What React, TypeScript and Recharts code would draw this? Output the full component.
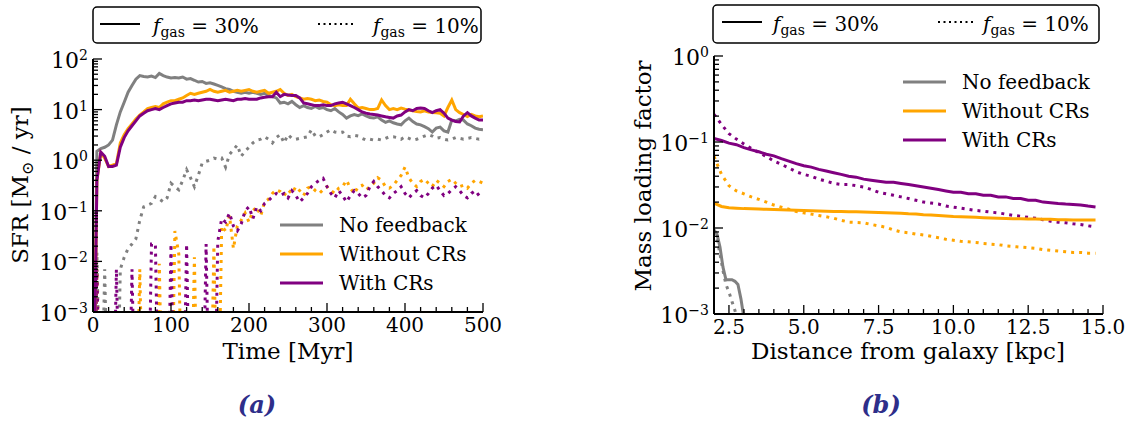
import React from 'react';
import { LineChart, Line, XAxis, YAxis } from 'recharts';

const FONT = "'DejaVu Serif', serif";
const GRAY = '#808080';
const ORANGE = '#FFA500';
const PURPLE = '#800080';
const Z = 1e-6; // zero star formation (below plot floor)

// ---------- Panel (a): SFR vs time ----------
const time = [0,5,10,15,20,25,30,35,40,45,50,55,60,65,70,75,80,85,90,95,100,105,110,115,120,125,130,135,140,145,150,155,160,165,170,175,180,185,190,195,200,205,210,215,220,225,230,235,240,245,250,255,260,265,270,275,280,285,290,295,300,305,310,315,320,325,330,335,340,345,350,355,360,365,370,375,380,385,390,395,400,405,410,415,420,425,430,435,440,445,450,455,460,465,470,475,480,485,490,495,500];

const sfrNoFeedback30 = [Z,1.5,1.7,1.8,2.0,2.5,5,9,14,22,30,40,47,45,44,46,43,52,47,44,42,43,42,44,40,41,38,35,36,33,34,32,30,28,26,25,23,22,21,22,21,22,21,20,21,19,18,17,13.5,14,13,14.5,12.5,11,12,11,10.5,11.5,10.5,11,10,9.5,10.5,9,8,6.8,7.5,8,7.6,8.2,7.5,7,6.8,7.2,6.2,5.6,6,5.5,5.2,5,6,6.8,5.8,5.2,5,4.6,4.2,3.6,4.3,4.5,3.8,3.6,6.2,6,6.4,6.2,5.2,4.8,4.3,4.1,4];
const sfrWithoutCRs30 = [Z,0.4,1.4,1.1,0.75,0.8,0.85,2.2,3.2,4.2,5.2,6.5,7.8,9,10.5,11,11.5,11,13,14,15,15,16,17,19,21,20,21,22,23,25,23,22,23,24,22,23,24,23,24,25,23,22,23,24,21,22,23,25,21,19,20,18,17,16,16.5,16,15,15.5,14.5,14,12.5,12,12.5,12,12,16,13,10.7,11,10.5,10,10,10.5,15.5,12,10,10.5,10,10.7,10.2,9.8,9.5,9.2,9,9.5,9,8.8,8.7,8.5,7.5,11,15.5,10,8.7,8,7.3,8,7.5,7.2,7.5];
const sfrWithCRs30 = [Z,0.4,1.45,1.2,0.75,0.75,0.8,1.8,2.8,3.8,4.8,6,7.5,8.5,9.5,10,10.5,10,11,12,13,13.5,14,14,15,15,15.5,15,15.5,16,16,15.5,15,15.5,16,15.5,15,16,16,16.5,16,16,16,17,17.5,18,18,22,18,20,19.5,19,19,17,13.5,13,12.5,12,12,12.5,12,12,13,13.5,14,13,12,11,10,9,8.5,8.2,8,7.8,7.5,7.2,7,6.8,7.5,7.8,9,10,9.5,10.5,10.7,10.5,9.5,8.7,9.5,10,8.5,6.8,6.2,5.8,5.7,7.5,8.7,7.5,6.8,6.2,6.2];
const sfrNoFeedback10 = [Z,0.015,Z,0.007,Z,Z,Z,0.007,0.012,0.018,0.022,0.028,0.065,0.12,0.13,0.14,0.19,0.17,0.15,0.18,0.35,0.3,0.26,0.4,0.65,0.45,0.3,0.5,0.88,0.95,1.0,1.1,1.05,1.1,0.73,1.3,1.6,2.0,1.2,1.5,1.8,2.2,2.5,2.6,2.9,2.6,2.2,2.8,3.2,2.2,3.2,2.7,2.6,2.7,2.8,2.9,4.0,3.0,2.9,3.2,3.6,4.0,3.6,3.5,3.6,3.0,2.9,3.1,3.0,2.7,2.5,2.6,2.5,2.6,2.5,2.7,2.9,2.9,2.8,2.6,2.9,2.7,2.5,2.6,2.8,3.0,3.2,3.0,2.7,2.8,2.6,2.5,2.6,2.8,2.7,2.6,2.7,2.8,2.7,2.6,2.7];
const sfrWithoutCRs10 = [Z,0.007,Z,Z,Z,Z,Z,Z,Z,Z,Z,Z,0.007,Z,Z,Z,Z,0.009,Z,Z,Z,0.04,0.014,Z,Z,Z,0.012,Z,Z,Z,Z,0.02,Z,0.05,0.04,0.08,0.018,0.05,0.065,0.09,0.06,0.1,0.12,0.08,0.15,0.17,0.22,0.26,0.24,0.2,0.26,0.22,0.3,0.25,0.2,0.28,0.3,0.25,0.22,0.26,0.3,0.25,0.22,0.28,0.3,0.4,0.28,0.22,0.3,0.32,0.26,0.3,0.35,0.45,0.4,0.3,0.28,0.32,0.4,0.5,0.73,0.45,0.35,0.3,0.38,0.42,0.35,0.3,0.4,0.35,0.3,0.38,0.42,0.35,0.3,0.32,0.28,0.35,0.4,0.38,0.35];
const sfrWithCRs10 = [Z,0.007,Z,Z,Z,Z,0.007,Z,Z,Z,0.007,Z,Z,Z,Z,0.022,0.022,Z,Z,Z,0.022,Z,Z,Z,0.022,Z,Z,Z,Z,0.022,Z,Z,0.025,0.07,0.06,0.09,0.05,0.04,0.055,0.1,0.12,0.07,0.12,0.1,0.14,0.16,0.19,0.22,0.2,0.22,0.18,0.25,0.2,0.15,0.18,0.22,0.3,0.35,0.4,0.44,0.3,0.22,0.18,0.25,0.2,0.15,0.2,0.25,0.22,0.18,0.2,0.3,0.38,0.3,0.25,0.2,0.18,0.22,0.25,0.3,0.22,0.18,0.22,0.25,0.2,0.18,0.22,0.28,0.32,0.25,0.2,0.22,0.26,0.3,0.25,0.2,0.18,0.22,0.25,0.2,0.2];

const timeTicks = [0,20,40,60,80,100,120,140,160,180,200,220,240,260,280,300,320,340,360,380,400,420,440,460,480,500];
const sfrTicks = [0.001,0.002,0.003,0.004,0.005,0.006,0.007,0.008,0.009,0.01,0.02,0.03,0.04,0.05,0.06,0.07,0.08,0.09,0.1,0.2,0.3,0.4,0.5,0.6,0.7,0.8,0.9,1,2,3,4,5,6,7,8,9,10,20,30,40,50,60,70,80,90,100];

// ---------- Panel (b): mass loading vs distance ----------
const distance = [2,2.25,2.5,2.75,3,3.25,3.5,3.75,4,4.25,4.5,4.75,5,5.25,5.5,5.75,6,6.25,6.5,6.75,7,7.25,7.5,7.75,8,8.25,8.5,8.75,9,9.25,9.5,9.75,10,10.25,10.5,10.75,11,11.25,11.5,11.75,12,12.25,12.5,12.75,13,13.25,13.5,13.75,14,14.25,14.5,14.75];
const mlWithoutCRs30 = [0.0195,0.0178,0.0172,0.017,0.0168,0.0167,0.0166,0.0165,0.0164,0.0163,0.0162,0.0161,0.016,0.0159,0.0158,0.0157,0.0156,0.0156,0.0155,0.0154,0.0153,0.0152,0.0151,0.015,0.0149,0.0148,0.0146,0.0145,0.0143,0.0142,0.014,0.0138,0.0136,0.0135,0.0134,0.0133,0.0132,0.0131,0.013,0.0129,0.0128,0.0128,0.0127,0.0127,0.0126,0.0126,0.0125,0.0125,0.0124,0.0124,0.0124,0.0124];
const mlWithCRs30 = [0.11,0.104,0.097,0.093,0.086,0.081,0.077,0.072,0.069,0.064,0.06,0.056,0.053,0.051,0.048,0.046,0.044,0.042,0.04,0.039,0.037,0.036,0.035,0.034,0.034,0.033,0.032,0.031,0.03,0.029,0.028,0.027,0.026,0.026,0.025,0.025,0.024,0.024,0.023,0.023,0.022,0.022,0.021,0.021,0.02,0.0197,0.0193,0.019,0.0188,0.0185,0.018,0.0176];
const mlWithoutCRs10 = [0.068,0.042,0.031,0.027,0.025,0.023,0.0215,0.02,0.0185,0.0175,0.0165,0.0155,0.015,0.0145,0.014,0.0135,0.013,0.0123,0.0117,0.0116,0.0115,0.011,0.0106,0.0102,0.0095,0.009,0.0088,0.0085,0.0083,0.008,0.0077,0.0074,0.0072,0.007,0.0069,0.0068,0.0066,0.0065,0.0064,0.0062,0.0061,0.006,0.0059,0.0058,0.0056,0.0055,0.0054,0.0053,0.0052,0.0052,0.0051,0.0051];
const mlWithCRs10 = [0.21,0.16,0.125,0.108,0.095,0.084,0.075,0.068,0.06,0.055,0.05,0.045,0.042,0.04,0.037,0.035,0.033,0.032,0.032,0.031,0.03,0.028,0.026,0.025,0.024,0.023,0.022,0.021,0.02,0.0195,0.019,0.018,0.0175,0.017,0.0165,0.016,0.0157,0.0153,0.015,0.0145,0.014,0.0137,0.0133,0.013,0.0125,0.012,0.0117,0.0115,0.0112,0.011,0.0106,0.0103];
const distanceNoFb30 = [2,2.1,2.2,2.3,2.4,2.5,2.6,2.7,2.8,2.9,3,3.1];
const mlNoFeedback30 = [0.0095,0.0085,0.006,0.0035,0.0025,0.0025,0.0025,0.0024,0.0022,0.0015,0.0009,0.0004];
const distanceNoFb10 = [2,2.1,2.2,2.3,2.4,2.5,2.6,2.7,2.8,2.9];
const mlNoFeedback10 = [0.009,0.0075,0.005,0.0032,0.0022,0.0018,0.0014,0.0011,0.0008,0.0005];

const distTicks = [2.5,3,3.5,4,4.5,5,5.5,6,6.5,7,7.5,8,8.5,9,9.5,10,10.5,11,11.5,12,12.5,13,13.5,14,14.5,15];
const mlTicks = [0.001,0.002,0.003,0.004,0.005,0.006,0.007,0.008,0.009,0.01,0.02,0.03,0.04,0.05,0.06,0.07,0.08,0.09,0.1,0.2,0.3,0.4,0.5,0.6,0.7,0.8,0.9,1];

const legendLabels = ['No feedback', 'Without CRs', 'With CRs'];
const legendColors = [GRAY, ORANGE, PURPLE];
const gasLabels = ['30%', '10%'];
const captions = ['(a)', '(b)'];

// ---------- helpers ----------
const isDecade = (v: number) => Math.abs(Math.log10(v) - Math.round(Math.log10(v))) < 1e-6;
const expStr = (v: number) => {
  const e = Math.round(Math.log10(v));
  return e < 0 ? '\u2212' + -e : String(e);
};

type Side = 'bottom' | 'top' | 'left' | 'right';
const makeTick = (side: Side, isMajor: (v: number) => boolean, label?: (v: number) => string) => (props: any) => {
  const { x, y, payload } = props;
  const v = payload.value;
  const major = isMajor(v);
  const len = major ? 9 : 5;
  let x2 = x, y2 = y;
  if (side === 'bottom') y2 = y - len;
  else if (side === 'top') y2 = y + len;
  else if (side === 'left') x2 = x + len;
  else x2 = x - len;
  return (
    <g>
      <line x1={x} y1={y} x2={x2} y2={y2} stroke="#000" strokeWidth={1.3} />
      {major && side === 'bottom' && label && (
        <text x={x} y={y + 20} textAnchor="middle" fontSize={20} fontFamily={FONT} fill="#000">{label(v)}</text>
      )}
      {major && side === 'left' && (
        <text x={x - 5} y={y + 9} textAnchor="end" fontSize={22} fontFamily={FONT} fill="#000">
          <tspan>10</tspan>
          <tspan dy={-8} fontSize={14}>{expStr(v)}</tspan>
        </text>
      )}
    </g>
  );
};

const axisLine = { stroke: '#000', strokeWidth: 2 };
const solid = { strokeWidth: 3, dot: false, activeDot: false, isAnimationActive: false, type: 'linear' as const };
const dotted = { ...solid, strokeDasharray: '3 5' };

const sfrData = time.map((t, i) => ({
  t,
  nf30: sfrNoFeedback30[i], wo30: sfrWithoutCRs30[i], w30: sfrWithCRs30[i],
  nf10: sfrNoFeedback10[i], wo10: sfrWithoutCRs10[i], w10: sfrWithCRs10[i],
}));
const mlData = distance.map((d, i) => ({
  d, wo30: mlWithoutCRs30[i], w30: mlWithCRs30[i], wo10: mlWithoutCRs10[i], w10: mlWithCRs10[i],
}));
const nf30Data = distanceNoFb30.map((d, i) => ({ d, nf30: mlNoFeedback30[i] }));
const nf10Data = distanceNoFb10.map((d, i) => ({ d, nf10: mlNoFeedback10[i] }));

const TopLegend = ({ x, y, w, h, lx, tx, dlx, dtx }: any) => (
  <g fontFamily={FONT}>
    <rect x={x} y={y} width={w} height={h} rx={4} fill="#fff" stroke="#000" strokeWidth={1.5} />
    <line x1={lx} x2={lx + 40} y1={y + 17} y2={y + 17} stroke="#000" strokeWidth={2} />
    <text x={tx} y={y + 26} fontSize={20} fill="#000">
      <tspan fontStyle="italic">f</tspan>
      <tspan fontSize={14} dy={4}>gas</tspan>
      <tspan dy={-4}>{' = ' + gasLabels[0]}</tspan>
    </text>
    <line x1={dlx} x2={dlx + 36} y1={y + 17} y2={y + 17} stroke="#000" strokeWidth={2} strokeDasharray="2 3.5" />
    <text x={dtx} y={y + 26} fontSize={20} fill="#000">
      <tspan fontStyle="italic">f</tspan>
      <tspan fontSize={14} dy={4}>gas</tspan>
      <tspan dy={-4}>{' = ' + gasLabels[1]}</tspan>
    </text>
  </g>
);

const InnerLegend = ({ x, y, gap }: any) => (
  <g fontFamily={FONT}>
    {legendLabels.map((lab, i) => (
      <g key={lab}>
        <line x1={x} x2={x + 43} y1={y + i * gap} y2={y + i * gap} stroke={legendColors[i]} strokeWidth={3} />
        <text x={x + 59} y={y + i * gap + 7} fontSize={20} fill="#000">{lab}</text>
      </g>
    ))}
  </g>
);

export default function App() {
  return (
    <div style={{ position: 'absolute', left: 0, top: 0, width: 1134, height: 421, background: '#fff' }}>
      <div style={{ position: 'absolute', left: 0, top: 0 }}>
        <LineChart width={530} height={421} data={sfrData} margin={{ top: 59, right: 47, bottom: 79, left: 13 }}>
          <XAxis xAxisId="b" dataKey="t" type="number" domain={[0, 500]} ticks={timeTicks} interval={0}
            allowDataOverflow height={30} tickSize={0} tickMargin={0} axisLine={axisLine}
            tick={makeTick('bottom', (v) => v % 100 === 0, (v) => String(v))} />
          <XAxis xAxisId="t" orientation="top" dataKey="t" type="number" domain={[0, 500]} ticks={timeTicks} interval={0}
            allowDataOverflow height={0} tickSize={0} tickMargin={0} axisLine={axisLine}
            tick={makeTick('top', (v) => v % 100 === 0)} />
          <YAxis yAxisId="l" type="number" scale="log" domain={[0.001, 100]} ticks={sfrTicks} interval={0}
            allowDataOverflow width={80} tickSize={0} tickMargin={0} axisLine={axisLine}
            tick={makeTick('left', isDecade)} />
          <YAxis yAxisId="r" orientation="right" type="number" scale="log" domain={[0.001, 100]} ticks={sfrTicks} interval={0}
            allowDataOverflow width={0} tickSize={0} tickMargin={0} axisLine={axisLine}
            tick={makeTick('right', isDecade)} />
          <Line xAxisId="b" yAxisId="l" dataKey="nf10" stroke={GRAY} {...dotted} />
          <Line xAxisId="b" yAxisId="l" dataKey="wo10" stroke={ORANGE} {...dotted} />
          <Line xAxisId="b" yAxisId="l" dataKey="w10" stroke={PURPLE} {...dotted} />
          <Line xAxisId="b" yAxisId="l" dataKey="nf30" stroke={GRAY} {...solid} />
          <Line xAxisId="b" yAxisId="l" dataKey="wo30" stroke={ORANGE} {...solid} />
          <Line xAxisId="b" yAxisId="l" dataKey="w30" stroke={PURPLE} {...solid} />
        </LineChart>
      </div>
      <div style={{ position: 'absolute', left: 600, top: 0 }}>
        <LineChart width={534} height={421} data={mlData} margin={{ top: 56, right: 31, bottom: 77, left: 34 }}>
          <XAxis xAxisId="b" dataKey="d" type="number" domain={[2, 15]} ticks={distTicks} interval={0}
            allowDataOverflow height={30} tickSize={0} tickMargin={0} axisLine={axisLine}
            tick={makeTick('bottom', (v) => Math.abs(v / 2.5 - Math.round(v / 2.5)) < 1e-6, (v) => v.toFixed(1))} />
          <XAxis xAxisId="t" orientation="top" dataKey="d" type="number" domain={[2, 15]} ticks={distTicks} interval={0}
            allowDataOverflow height={0} tickSize={0} tickMargin={0} axisLine={axisLine}
            tick={makeTick('top', (v) => Math.abs(v / 2.5 - Math.round(v / 2.5)) < 1e-6)} />
          <YAxis yAxisId="l" type="number" scale="log" domain={[0.001, 1]} ticks={mlTicks} interval={0}
            allowDataOverflow width={80} tickSize={0} tickMargin={0} axisLine={axisLine}
            tick={makeTick('left', isDecade)} />
          <YAxis yAxisId="r" orientation="right" type="number" scale="log" domain={[0.001, 1]} ticks={mlTicks} interval={0}
            allowDataOverflow width={0} tickSize={0} tickMargin={0} axisLine={axisLine}
            tick={makeTick('right', isDecade)} />
          <Line xAxisId="b" yAxisId="l" data={nf10Data} dataKey="nf10" stroke={GRAY} {...dotted} />
          <Line xAxisId="b" yAxisId="l" dataKey="wo10" stroke={ORANGE} {...dotted} />
          <Line xAxisId="b" yAxisId="l" dataKey="w10" stroke={PURPLE} {...dotted} />
          <Line xAxisId="b" yAxisId="l" data={nf30Data} dataKey="nf30" stroke={GRAY} {...solid} />
          <Line xAxisId="b" yAxisId="l" dataKey="wo30" stroke={ORANGE} {...solid} />
          <Line xAxisId="b" yAxisId="l" dataKey="w30" stroke={PURPLE} {...solid} />
        </LineChart>
      </div>
      <svg width={1134} height={421} style={{ position: 'absolute', left: 0, top: 0, pointerEvents: 'none' }}>
        <TopLegend x={93} y={7} w={388} h={36} lx={100} tx={153} dlx={318} dtx={373} />
        <TopLegend x={713} y={5} w={386} h={38} lx={722} tx={773} dlx={938} dtx={983} />
        <InnerLegend x={280} y={225} gap={29} />
        <InnerLegend x={903} y={82} gap={29} />
        <g fontFamily={FONT} fontSize={23} fill="#000">
          <text x={288} y={359} textAnchor="middle">Time [Myr]</text>
          <text x={908} y={359} textAnchor="middle">Distance from galaxy [kpc]</text>
          <text transform="translate(28,185) rotate(-90)" textAnchor="middle">
            <tspan>SFR [M</tspan>
            <tspan fontSize={16} dy={5}>⊙</tspan>
            <tspan dy={-5}> / yr]</tspan>
          </text>
          <text transform="translate(651,176) rotate(-90)" textAnchor="middle">Mass loading factor</text>
        </g>
        <g fontFamily={FONT} fontSize={24} fontWeight="bold" fontStyle="italic" fill="#2e2e8a">
          <text x={257} y={413} textAnchor="middle">{captions[0]}</text>
          <text x={881} y={413} textAnchor="middle">{captions[1]}</text>
        </g>
      </svg>
    </div>
  );
}
